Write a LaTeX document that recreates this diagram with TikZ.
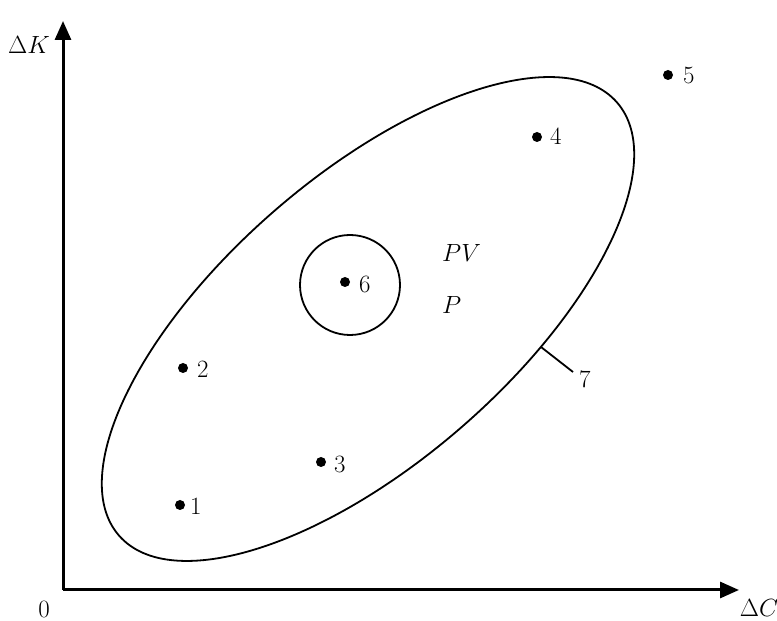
\documentclass[tikz,border=0pt]{standalone}
\usetikzlibrary{arrows.meta}
\begin{document}
\begin{tikzpicture}[x=1pt,y=1pt,
  axis/.style={line width=3pt,-{Triangle[length=19pt,width=16pt]}},
  dot/.style={circle,fill=black,inner sep=0pt,minimum size=10pt},
  lbl/.style={font=\fontsize{24.88}{30}\selectfont,inner sep=0pt},
  curve/.style={line width=1.8pt}]
\useasboundingbox (0,0) rectangle (777,621);
\coordinate (O) at (63,31);
\coordinate (Ytop) at (63,600);
\coordinate (Xend) at (739,31);
\draw[axis] (O) -- (Ytop);
\draw[axis] (O) -- (Xend);
\node[lbl] (dk) at (29,576) {$\Delta K$};
\node[lbl] (zero) at (44,12) {$0$};
\node[lbl] (dc) at (759,13) {$\Delta C$};
% ellipse
\draw[curve,rotate around={41:(368,302)}] (368,302) ellipse [x radius=330, y radius=143];
% circle
\node[curve,draw,circle,minimum size=100pt,inner sep=0pt] (circ) at (350,336) {};
% points
\node[dot] (p1) at (180,116) {};
\node[lbl,anchor=west] (l1) at (190,115) {$1$};
\node[dot] (p2) at (183,253) {};
\node[lbl,anchor=west] (l2) at (197,252) {$2$};
\node[dot] (p3) at (321,159) {};
\node[lbl,anchor=west] (l3) at (334,157) {$3$};
\node[dot] (p4) at (537,484) {};
\node[lbl,anchor=west] (l4) at (550,485) {$4$};
\node[dot] (p5) at (668,546) {};
\node[lbl,anchor=west] (l5) at (683,546) {$5$};
\node[dot] (p6) at (345,339) {};
\node[lbl,anchor=west] (l6) at (359,337) {$6$};
\node[lbl,anchor=west] (pv) at (442,368) {$PV$};
\node[lbl,anchor=west] (pp) at (442,316) {$P$};
\coordinate (t7) at (541,274);
\coordinate (e7) at (573,249);
\draw[curve] (t7) -- (e7);
\node[lbl,anchor=west] (l7) at (579,242) {$7$};
\end{tikzpicture}
\end{document}
